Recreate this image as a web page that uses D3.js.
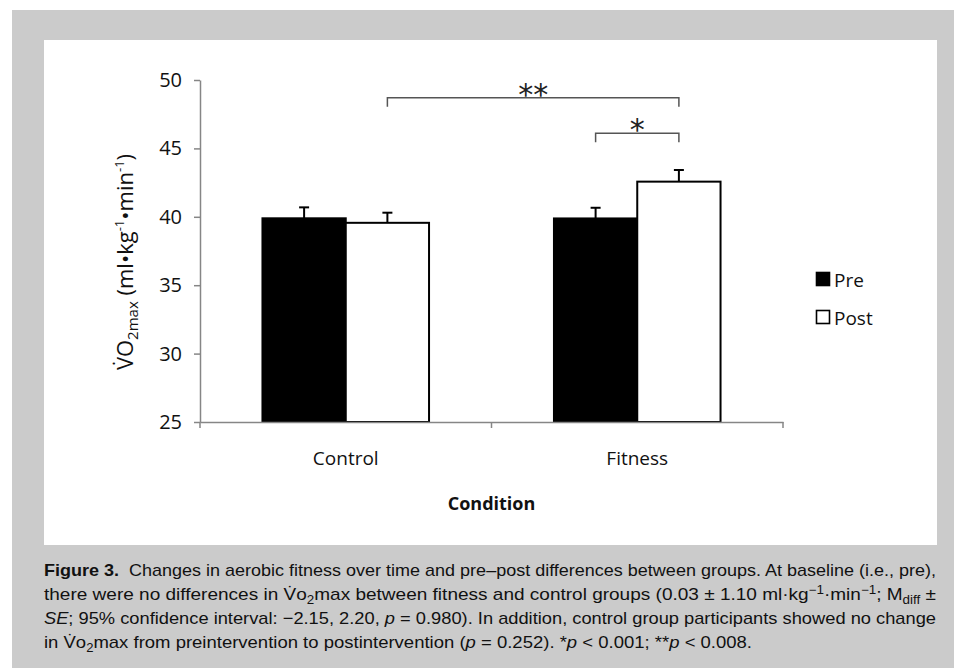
<!DOCTYPE html>
<html>
<head>
<meta charset="utf-8">
<script src="https://cdn.jsdelivr.net/npm/d3@7"></script>
<style>
  body { margin: 0; background: #fff; }
  svg { display: block; }
</style>
</head>
<body>
<svg id="fig" width="954" height="668"></svg>
<script>
const groups = ["Control", "Fitness"];
const series = ["Pre", "Post"];
const preMeans = [39.89, 39.88];
const postMeans = [39.56, 42.57];
const preErrs = [0.8, 0.78];
const postErrs = [0.74, 0.85];
const yTicks = [25, 30, 35, 40, 45, 50];

// significance brackets: [fromGroup, fromSeries, toGroup, toSeries, level, label]
const brackets = [
  ["Control", "Post", "Fitness", "Post", 48.7, "**"],
  ["Fitness", "Pre", "Fitness", "Post", 46.1, "*"]
];

const captionLines = [
  [["Figure 3.", "b"], ["  Changes in aerobic fitness over time and pre\u2013post differences between groups. At baseline (i.e., pre),"]],
  [["there were no differences in V\u0307o"], ["2", "sub"], ["max between fitness and control groups (0.03 \u00b1 1.10 ml\u00b7kg"], ["\u22121", "sup"],
   ["\u00b7min"], ["\u22121", "sup"], ["; M"], ["diff", "sub"], [" \u00b1"]],
  [["SE", "i"], ["; 95% confidence interval: \u22122.15, 2.20, "], ["p", "i"], [" = 0.980). In addition, control group participants showed no change"]],
  [["in V\u0307o"], ["2", "sub"], ["max from preintervention to postintervention ("], ["p", "i"], [" = 0.252). *"], ["p", "i"],
   [" < 0.001; **"], ["p", "i"], [" < 0.008."]]
];
const captionWidths = [892, 892, 892, 708];

const FONT = "'Open Sans', sans-serif";
const AXIS_GREY = "#868686";

const svg = d3.select("#fig");

// frame
svg.append("rect").attr("x", 12).attr("y", 10).attr("width", 942).attr("height", 658).attr("fill", "#cbcbcb");
svg.append("rect").attr("x", 44).attr("y", 40).attr("width", 893).attr("height", 505).attr("fill", "#fff");

const y = d3.scaleLinear().domain([25, 50]).range([422, 80]);
const x0 = d3.scaleBand().domain(groups).range([200, 783]);
const x1 = d3.scaleBand().domain(series).range([0, x0.bandwidth()]).paddingOuter(0.75);

const rows = [];
groups.forEach((g, i) => {
  rows.push({ group: g, s: "Pre", mean: preMeans[i], err: preErrs[i] });
  rows.push({ group: g, s: "Post", mean: postMeans[i], err: postErrs[i] });
});
const cx = (g, s) => x0(g) + x1(s) + x1.bandwidth() / 2;

const chart = svg.append("g");

// bars
chart.selectAll("rect.bar")
  .data(rows)
  .enter()
  .append("rect")
  .attr("class", "bar")
  .attr("x", (d) => x0(d.group) + x1(d.s))
  .attr("width", x1.bandwidth())
  .attr("y", (d) => y(d.mean))
  .attr("height", (d) => y(25) - y(d.mean))
  .attr("fill", (d) => (d.s === "Pre" ? "#000" : "#fff"))
  .attr("stroke", "#000")
  .attr("stroke-width", 2);

// error bars (upper only)
const err = chart.selectAll("g.err").data(rows).enter().append("g").attr("class", "err");
err.append("line")
  .attr("x1", (d) => cx(d.group, d.s))
  .attr("x2", (d) => cx(d.group, d.s))
  .attr("y1", (d) => y(d.mean))
  .attr("y2", (d) => y(d.mean + d.err))
  .attr("stroke", "#000")
  .attr("stroke-width", 2);
err.append("line")
  .attr("x1", (d) => cx(d.group, d.s) - 5)
  .attr("x2", (d) => cx(d.group, d.s) + 5)
  .attr("y1", (d) => y(d.mean + d.err))
  .attr("y2", (d) => y(d.mean + d.err))
  .attr("stroke", "#000")
  .attr("stroke-width", 2);

// y axis
const yAxis = chart.append("g")
  .attr("transform", "translate(200,0)")
  .call(d3.axisLeft(y).tickValues(yTicks).tickSize(6).tickSizeOuter(0).tickPadding(12));
yAxis.select(".domain").attr("stroke", AXIS_GREY).attr("stroke-width", 1.5);
yAxis.selectAll(".tick line").attr("stroke", AXIS_GREY).attr("stroke-width", 1.5);
yAxis.selectAll(".tick text").attr("font-family", FONT).attr("font-size", 20).attr("fill", "#111");

// x axis
const xAxis = chart.append("g")
  .attr("transform", "translate(0,422)")
  .call(d3.axisBottom(x0).tickSize(0).tickPadding(30));
xAxis.select(".domain").attr("stroke", AXIS_GREY).attr("stroke-width", 1.5);
xAxis.selectAll(".tick text").attr("font-family", FONT).attr("font-size", 19).attr("fill", "#111");
const edges = groups.map((g) => x0(g)).concat([x0.range()[1]]);
xAxis.selectAll("line.edge")
  .data(edges)
  .enter()
  .append("line")
  .attr("class", "edge")
  .attr("x1", (d) => d)
  .attr("x2", (d) => d)
  .attr("y1", 0)
  .attr("y2", 6)
  .attr("stroke", AXIS_GREY)
  .attr("stroke-width", 1.5);

// axis titles
chart.append("text")
  .attr("x", 491.5)
  .attr("y", 510)
  .attr("text-anchor", "middle")
  .attr("font-family", FONT)
  .attr("font-size", 18)
  .attr("font-weight", "bold")
  .attr("fill", "#111")
  .text("Condition");

const yTitle = chart.append("text")
  .attr("transform", "translate(133,262) rotate(-90)")
  .attr("text-anchor", "middle")
  .attr("font-family", FONT)
  .attr("font-size", 22)
  .attr("fill", "#111");
yTitle.append("tspan").text("V\u0307O");
yTitle.append("tspan").attr("font-size", 15).attr("dy", 5).text("2max");
yTitle.append("tspan").attr("dy", -5).text(" (ml\u2022kg");
yTitle.append("tspan").attr("font-size", 13).attr("dy", -9).text("-1");
yTitle.append("tspan").attr("dy", 9).text("\u2022min");
yTitle.append("tspan").attr("font-size", 13).attr("dy", -9).text("-1");
yTitle.append("tspan").attr("dy", 9).text(")");

// significance brackets
const br = chart.selectAll("g.br").data(brackets).enter().append("g").attr("class", "br");
br.append("path")
  .attr("d", (d) => {
    const xa = cx(d[0], d[1]), xb = cx(d[2], d[3]), yy = y(d[4]);
    return `M${xa},${yy + 9}V${yy}H${xb}V${yy + 9}`;
  })
  .attr("fill", "none")
  .attr("stroke", "#555")
  .attr("stroke-width", 1.5);
br.append("text")
  .attr("x", (d) => (cx(d[0], d[1]) + cx(d[2], d[3])) / 2)
  .attr("y", (d) => y(d[4]) + 7)
  .attr("text-anchor", "middle")
  .attr("font-family", "'DejaVu Sans', sans-serif")
  .attr("font-size", 30)
  .attr("fill", "#222")
  .text((d) => d[5]);

// legend
const leg = chart.selectAll("g.leg").data(series).enter().append("g")
  .attr("class", "leg")
  .attr("transform", (d, i) => `translate(816,${272 + i * 38})`);
leg.append("rect")
  .attr("x", 0.5).attr("y", 0.5)
  .attr("width", 13).attr("height", 13)
  .attr("fill", (d) => (d === "Pre" ? "#000" : "#fff"))
  .attr("stroke", "#000")
  .attr("stroke-width", 1.6);
leg.append("text")
  .attr("x", 18)
  .attr("y", 15)
  .attr("font-family", FONT)
  .attr("font-size", 19)
  .attr("fill", "#111")
  .text((d) => d);

// caption
const cap = svg.append("g").attr("font-family", "'Liberation Sans', Arial, sans-serif").attr("font-size", 17).attr("fill", "#111");
captionLines.forEach((segs, i) => {
  const t = cap.append("text")
    .attr("x", 44)
    .attr("y", 576 + i * 24)
    .attr("textLength", captionWidths[i])
    .attr("lengthAdjust", "spacingAndGlyphs")
    .attr("xml:space", "preserve");
  let shift = 0;
  segs.forEach(([txt, st]) => {
    const sp = t.append("tspan").text(txt);
    let target = 0;
    if (st === "b") sp.attr("font-weight", "bold");
    if (st === "i") sp.attr("font-style", "italic");
    if (st === "sub") { sp.attr("font-size", 12); target = 4; }
    if (st === "sup") { sp.attr("font-size", 12); target = -6; }
    if (target !== shift) sp.attr("dy", target - shift);
    shift = target;
  });
});
</script>
</body>
</html>
